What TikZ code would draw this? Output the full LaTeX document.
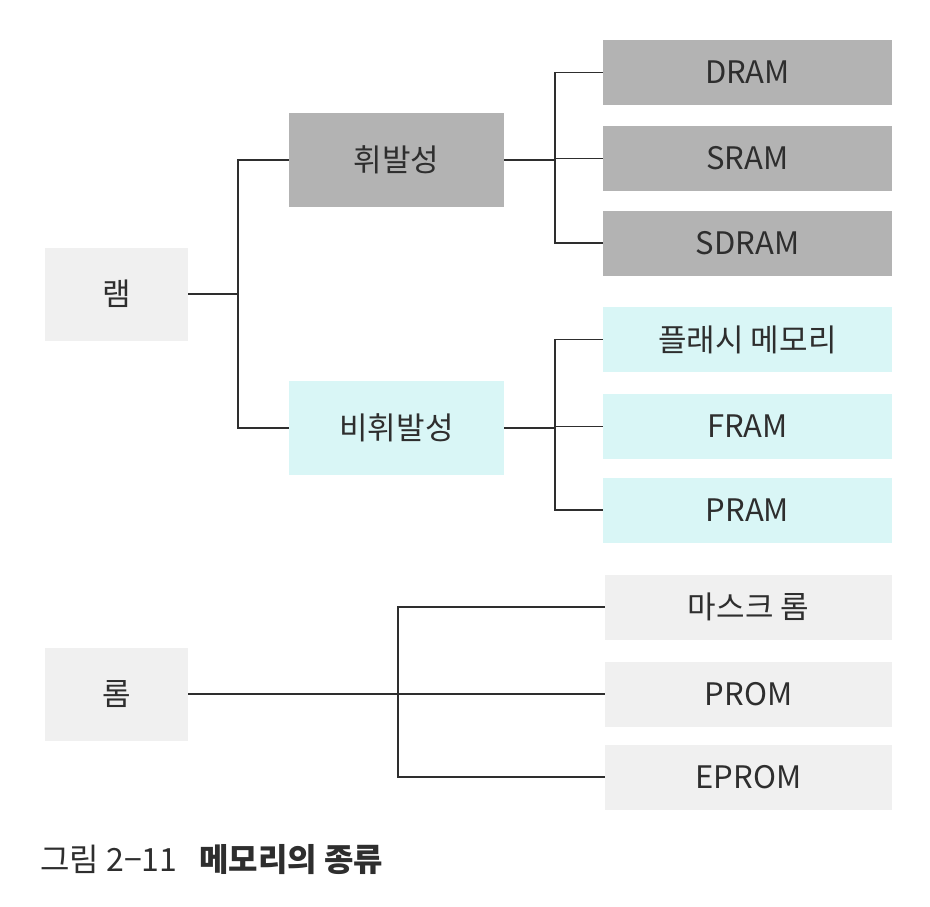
\documentclass[tikz,border=0pt]{standalone}
\usepackage{fontspec}
\setmainfont{Noto Sans CJK KR}
\definecolor{dgray}{HTML}{B3B3B3}
\definecolor{lgray}{HTML}{F0F0F0}
\definecolor{lcyan}{HTML}{D9F6F6}
\definecolor{ink}{HTML}{2E2E2E}
\begin{document}
\begin{tikzpicture}[x=1pt,y=-1pt,
  box/.style={inner sep=0pt, outer sep=0pt, text=ink, font=\fontsize{31}{36}\selectfont},
  root/.style={box, fill=lgray, minimum width=143pt, minimum height=93pt},
  mid/.style={box, minimum width=215pt, minimum height=94pt},
  leaf/.style={box, minimum width=289pt, minimum height=65pt},
  conn/.style={draw=ink, line width=1.3pt}]
\useasboundingbox (0,0) rectangle (930,906);
\fill[white] (0,0) rectangle (930,906);
% roots
\node[root] (ram) at (116.5,294) {램};
\node[root] (rom) at (116.5,694) {롬};
% middle
\node[mid, fill=dgray] (vol) at (396.5,160) {휘발성};
\node[mid, fill=lcyan] (nvol) at (396.5,428) {비휘발성};
% leaves
\node[leaf, fill=dgray] (dram) at (747.5,72.5) {DRAM};
\node[leaf, fill=dgray] (sram) at (747.5,158.5) {SRAM};
\node[leaf, fill=dgray] (sdram) at (747.5,243) {SDRAM};
\node[leaf, fill=lcyan] (flash) at (747.5,339.5) {플래시 메모리};
\node[leaf, fill=lcyan] (fram) at (747.5,426.5) {FRAM};
\node[leaf, fill=lcyan] (pram) at (747.5,510) {PRAM};
\node[leaf, fill=lgray, minimum width=287pt] (mrom) at (748.5,607) {마스크 롬};
\node[leaf, fill=lgray, minimum width=287pt] (prom) at (748.5,694) {PROM};
\node[leaf, fill=lgray, minimum width=287pt] (eprom) at (748.5,777) {EPROM};
% junctions
\coordinate (j1) at (238,294);
\coordinate (j2) at (555,160);
\coordinate (j3) at (555,428);
\coordinate (j4) at (398,694);
% connectors
\draw[conn] (ram.east) -- (j1);
\draw[conn] (j1) |- (vol.west);
\draw[conn] (j1) |- (nvol.west);
\draw[conn] (vol.east) -- (j2);
\draw[conn] (j2) |- (dram.west);
\draw[conn] (j2) |- (sram.west);
\draw[conn] (j2) |- (sdram.west);
\draw[conn] (nvol.east) -- (j3);
\draw[conn] (j3) |- (flash.west);
\draw[conn] (j3) |- (fram.west);
\draw[conn] (j3) |- (pram.west);
\draw[conn] (rom.east) -- (j4);
\draw[conn] (j4) |- (mrom.west);
\draw[conn] (j4) -- (prom.west);
\draw[conn] (j4) |- (eprom.west);
% caption
\node[anchor=west, inner sep=0pt, text=ink, font=\fontsize{32}{36}\selectfont] (cap) at (40,860) {그림 2−11\hspace{22pt}\textbf{메모리의 종류}};
\end{tikzpicture}
\end{document}
